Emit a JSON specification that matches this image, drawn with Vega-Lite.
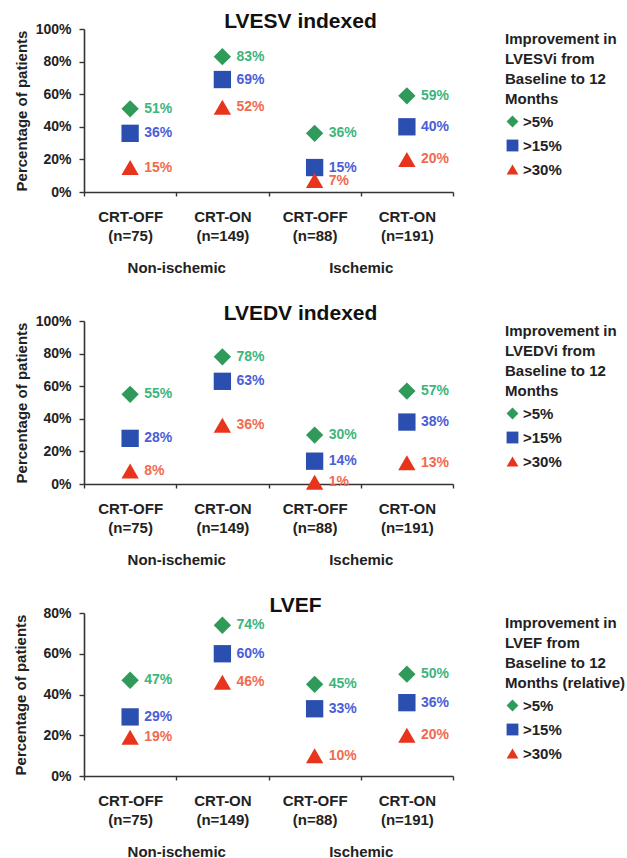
{
  "$schema": "https://vega.github.io/schema/vega-lite/v6.json",
  "background": "white",
  "padding": {"left": 13, "top": 11, "right": 0, "bottom": 0},
  "spacing": 28,
  "columns": 1,
  "align": "none",
  "config": {
    "font": "Liberation Sans, Arial, sans-serif",
    "view": {"stroke": null},
    "axis": {
      "grid": false,
      "labelFont": "Liberation Sans, Arial, sans-serif",
      "labelFontWeight": "bold",
      "labelColor": "#222222",
      "titleColor": "#222222",
      "domainColor": "#333333",
      "tickColor": "#333333",
      "domainWidth": 1.6,
      "tickWidth": 1.4,
      "labelOverlap": false
    },
    "legend": {
      "titleFont": "Liberation Sans, Arial, sans-serif",
      "titleFontSize": 15,
      "titleFontWeight": "bold",
      "titleColor": "#222222",
      "titleLineHeight": 20,
      "titlePadding": 7,
      "labelFont": "Liberation Sans, Arial, sans-serif",
      "labelFontSize": 15,
      "labelFontWeight": "bold",
      "labelColor": "#222222",
      "symbolSize": 140,
      "labelOffset": 3,
      "rowPadding": 8,
      "offset": 49,
      "padding": 3
    },
    "title": {
      "font": "Liberation Sans, Arial, sans-serif",
      "fontSize": 21,
      "fontWeight": "bold",
      "color": "#111111",
      "anchor": "middle",
      "offset": -10
    }
  },
  "data": {
    "values": [
      {"panel": "LVESV", "arm": "CRT-OFF (n=75)", "group": "Non-ischemic", "thr": ">5%", "value": 0.51},
      {"panel": "LVESV", "arm": "CRT-OFF (n=75)", "group": "Non-ischemic", "thr": ">15%", "value": 0.36},
      {"panel": "LVESV", "arm": "CRT-OFF (n=75)", "group": "Non-ischemic", "thr": ">30%", "value": 0.15},
      {"panel": "LVESV", "arm": "CRT-ON (n=149)", "group": "Non-ischemic", "thr": ">5%", "value": 0.83},
      {"panel": "LVESV", "arm": "CRT-ON (n=149)", "group": "Non-ischemic", "thr": ">15%", "value": 0.69},
      {"panel": "LVESV", "arm": "CRT-ON (n=149)", "group": "Non-ischemic", "thr": ">30%", "value": 0.52},
      {"panel": "LVESV", "arm": "CRT-OFF (n=88)", "group": "Ischemic", "thr": ">5%", "value": 0.36},
      {"panel": "LVESV", "arm": "CRT-OFF (n=88)", "group": "Ischemic", "thr": ">15%", "value": 0.15},
      {"panel": "LVESV", "arm": "CRT-OFF (n=88)", "group": "Ischemic", "thr": ">30%", "value": 0.07},
      {"panel": "LVESV", "arm": "CRT-ON (n=191)", "group": "Ischemic", "thr": ">5%", "value": 0.59},
      {"panel": "LVESV", "arm": "CRT-ON (n=191)", "group": "Ischemic", "thr": ">15%", "value": 0.40},
      {"panel": "LVESV", "arm": "CRT-ON (n=191)", "group": "Ischemic", "thr": ">30%", "value": 0.20},
      {"panel": "LVEDV", "arm": "CRT-OFF (n=75)", "group": "Non-ischemic", "thr": ">5%", "value": 0.55},
      {"panel": "LVEDV", "arm": "CRT-OFF (n=75)", "group": "Non-ischemic", "thr": ">15%", "value": 0.28},
      {"panel": "LVEDV", "arm": "CRT-OFF (n=75)", "group": "Non-ischemic", "thr": ">30%", "value": 0.08},
      {"panel": "LVEDV", "arm": "CRT-ON (n=149)", "group": "Non-ischemic", "thr": ">5%", "value": 0.78},
      {"panel": "LVEDV", "arm": "CRT-ON (n=149)", "group": "Non-ischemic", "thr": ">15%", "value": 0.63},
      {"panel": "LVEDV", "arm": "CRT-ON (n=149)", "group": "Non-ischemic", "thr": ">30%", "value": 0.36},
      {"panel": "LVEDV", "arm": "CRT-OFF (n=88)", "group": "Ischemic", "thr": ">5%", "value": 0.30},
      {"panel": "LVEDV", "arm": "CRT-OFF (n=88)", "group": "Ischemic", "thr": ">15%", "value": 0.14},
      {"panel": "LVEDV", "arm": "CRT-OFF (n=88)", "group": "Ischemic", "thr": ">30%", "value": 0.01},
      {"panel": "LVEDV", "arm": "CRT-ON (n=191)", "group": "Ischemic", "thr": ">5%", "value": 0.57},
      {"panel": "LVEDV", "arm": "CRT-ON (n=191)", "group": "Ischemic", "thr": ">15%", "value": 0.38},
      {"panel": "LVEDV", "arm": "CRT-ON (n=191)", "group": "Ischemic", "thr": ">30%", "value": 0.13},
      {"panel": "LVEF", "arm": "CRT-OFF (n=75)", "group": "Non-ischemic", "thr": ">5%", "value": 0.47},
      {"panel": "LVEF", "arm": "CRT-OFF (n=75)", "group": "Non-ischemic", "thr": ">15%", "value": 0.29},
      {"panel": "LVEF", "arm": "CRT-OFF (n=75)", "group": "Non-ischemic", "thr": ">30%", "value": 0.19},
      {"panel": "LVEF", "arm": "CRT-ON (n=149)", "group": "Non-ischemic", "thr": ">5%", "value": 0.74},
      {"panel": "LVEF", "arm": "CRT-ON (n=149)", "group": "Non-ischemic", "thr": ">15%", "value": 0.60},
      {"panel": "LVEF", "arm": "CRT-ON (n=149)", "group": "Non-ischemic", "thr": ">30%", "value": 0.46},
      {"panel": "LVEF", "arm": "CRT-OFF (n=88)", "group": "Ischemic", "thr": ">5%", "value": 0.45},
      {"panel": "LVEF", "arm": "CRT-OFF (n=88)", "group": "Ischemic", "thr": ">15%", "value": 0.33},
      {"panel": "LVEF", "arm": "CRT-OFF (n=88)", "group": "Ischemic", "thr": ">30%", "value": 0.10},
      {"panel": "LVEF", "arm": "CRT-ON (n=191)", "group": "Ischemic", "thr": ">5%", "value": 0.50},
      {"panel": "LVEF", "arm": "CRT-ON (n=191)", "group": "Ischemic", "thr": ">15%", "value": 0.36},
      {"panel": "LVEF", "arm": "CRT-ON (n=191)", "group": "Ischemic", "thr": ">30%", "value": 0.20}
    ]
  },
  "resolve": {
    "scale": {"y": "independent", "color": "independent", "shape": "independent", "fill": "independent"},
    "legend": {"color": "independent", "shape": "independent"}
  },
  "concat": [
    {
      "title": {"text": "LVESV indexed", "dx": 32},
      "width": 369,
      "height": 163,
      "transform": [{"filter": "datum.panel === 'LVESV'"}],
      "layer": [
        {
          "mark": {"type": "point", "opacity": 0},
          "encoding": {
            "x": {"field": "group", "type": "nominal", "sort": ["Non-ischemic", "Ischemic"], "axis": {"orient": "bottom", "offset": 68, "title": null, "domain": false, "ticks": false, "labelAngle": 0, "labelFontSize": 15, "labelPadding": 0}},
            "y": {"field": "value", "type": "quantitative", "scale": {"domain": [0, 1]}, "axis": {"title": "Percentage of patients", "titleFontSize": 15, "titleFontWeight": "bold", "titlePadding": 6, "format": ".0%", "values": [0, 0.2, 0.4, 0.6, 0.8, 1], "tickCount": 6, "labelOverlap": false, "labelFontSize": 14, "labelPadding": 8, "tickSize": 5}}
          }
        },
        {
          "layer": [
            {
              "mark": {"type": "point", "filled": true, "size": 300, "opacity": 1},
              "encoding": {
                "x": {"field": "arm", "type": "nominal", "sort": null, "axis": {"orient": "bottom", "title": null, "labelAngle": 0, "labelFontSize": 15, "labelLineHeight": 19, "labelPadding": 13, "tickBand": "extent", "tickSize": 4, "labelExpr": "split(datum.label, ' ')"}},
                "y": {"field": "value", "type": "quantitative", "scale": {"domain": [0, 1]}, "axis": {"title": "Percentage of patients", "titleFontSize": 15, "titleFontWeight": "bold", "titlePadding": 6, "format": ".0%", "values": [0, 0.2, 0.4, 0.6, 0.8, 1], "tickCount": 6, "labelOverlap": false, "labelFontSize": 14, "labelPadding": 8, "tickSize": 5}},
                "color": {"field": "thr", "type": "nominal", "scale": {"domain": [">5%", ">15%", ">30%"], "range": ["#2f9a5a", "#2b4fb0", "#e8341c"]}, "legend": {"title": ["Improvement in", "LVESVi from", "Baseline to 12", "Months"]}},
                "shape": {"field": "thr", "type": "nominal", "scale": {"domain": [">5%", ">15%", ">30%"], "range": ["diamond", "square", "triangle-up"]}, "legend": {"title": ["Improvement in", "LVESVi from", "Baseline to 12", "Months"]}}
              }
            },
            {
              "mark": {"type": "text", "align": "left", "baseline": "middle", "dx": 14, "fontSize": 14, "fontWeight": "bold"},
              "encoding": {
                "x": {"field": "arm", "type": "nominal", "sort": null},
                "y": {"field": "value", "type": "quantitative"},
                "text": {"field": "value", "type": "quantitative", "format": ".0%"},
                "fill": {"field": "thr", "type": "nominal", "scale": {"domain": [">5%", ">15%", ">30%"], "range": ["#3db57c", "#4a5ed6", "#f26a50"]}, "legend": null}
              }
            }
          ]
        }
      ],
      "resolve": {"scale": {"x": "independent"}, "axis": {"x": "independent"}}
    },
    {
      "title": {"text": "LVEDV indexed", "dx": 32},
      "width": 369,
      "height": 163,
      "transform": [{"filter": "datum.panel === 'LVEDV'"}],
      "layer": [
        {
          "mark": {"type": "point", "opacity": 0},
          "encoding": {
            "x": {"field": "group", "type": "nominal", "sort": ["Non-ischemic", "Ischemic"], "axis": {"orient": "bottom", "offset": 68, "title": null, "domain": false, "ticks": false, "labelAngle": 0, "labelFontSize": 15, "labelPadding": 0}},
            "y": {"field": "value", "type": "quantitative", "scale": {"domain": [0, 1]}, "axis": {"title": "Percentage of patients", "titleFontSize": 15, "titleFontWeight": "bold", "titlePadding": 6, "format": ".0%", "values": [0, 0.2, 0.4, 0.6, 0.8, 1], "tickCount": 6, "labelOverlap": false, "labelFontSize": 14, "labelPadding": 8, "tickSize": 5}}
          }
        },
        {
          "layer": [
            {
              "mark": {"type": "point", "filled": true, "size": 300, "opacity": 1},
              "encoding": {
                "x": {"field": "arm", "type": "nominal", "sort": null, "axis": {"orient": "bottom", "title": null, "labelAngle": 0, "labelFontSize": 15, "labelLineHeight": 19, "labelPadding": 13, "tickBand": "extent", "tickSize": 4, "labelExpr": "split(datum.label, ' ')"}},
                "y": {"field": "value", "type": "quantitative", "scale": {"domain": [0, 1]}, "axis": {"title": "Percentage of patients", "titleFontSize": 15, "titleFontWeight": "bold", "titlePadding": 6, "format": ".0%", "values": [0, 0.2, 0.4, 0.6, 0.8, 1], "tickCount": 6, "labelOverlap": false, "labelFontSize": 14, "labelPadding": 8, "tickSize": 5}},
                "color": {"field": "thr", "type": "nominal", "scale": {"domain": [">5%", ">15%", ">30%"], "range": ["#2f9a5a", "#2b4fb0", "#e8341c"]}, "legend": {"title": ["Improvement in", "LVEDVi from", "Baseline to 12", "Months"]}},
                "shape": {"field": "thr", "type": "nominal", "scale": {"domain": [">5%", ">15%", ">30%"], "range": ["diamond", "square", "triangle-up"]}, "legend": {"title": ["Improvement in", "LVEDVi from", "Baseline to 12", "Months"]}}
              }
            },
            {
              "mark": {"type": "text", "align": "left", "baseline": "middle", "dx": 14, "fontSize": 14, "fontWeight": "bold"},
              "encoding": {
                "x": {"field": "arm", "type": "nominal", "sort": null},
                "y": {"field": "value", "type": "quantitative"},
                "text": {"field": "value", "type": "quantitative", "format": ".0%"},
                "fill": {"field": "thr", "type": "nominal", "scale": {"domain": [">5%", ">15%", ">30%"], "range": ["#3db57c", "#4a5ed6", "#f26a50"]}, "legend": null}
              }
            }
          ]
        }
      ],
      "resolve": {"scale": {"x": "independent"}, "axis": {"x": "independent"}}
    },
    {
      "title": {"text": "LVEF", "dx": 27},
      "width": 369,
      "height": 163,
      "transform": [{"filter": "datum.panel === 'LVEF'"}],
      "layer": [
        {
          "mark": {"type": "point", "opacity": 0},
          "encoding": {
            "x": {"field": "group", "type": "nominal", "sort": ["Non-ischemic", "Ischemic"], "axis": {"orient": "bottom", "offset": 68, "title": null, "domain": false, "ticks": false, "labelAngle": 0, "labelFontSize": 15, "labelPadding": 0}},
            "y": {"field": "value", "type": "quantitative", "scale": {"domain": [0, 0.8]}, "axis": {"title": "Percentage of patients", "titleFontSize": 15, "titleFontWeight": "bold", "titlePadding": 14, "format": ".0%", "values": [0, 0.2, 0.4, 0.6, 0.8], "labelOverlap": false, "labelFontSize": 14, "labelPadding": 8, "tickSize": 5}}
          }
        },
        {
          "layer": [
            {
              "mark": {"type": "point", "filled": true, "size": 300, "opacity": 1},
              "encoding": {
                "x": {"field": "arm", "type": "nominal", "sort": null, "axis": {"orient": "bottom", "title": null, "labelAngle": 0, "labelFontSize": 15, "labelLineHeight": 19, "labelPadding": 13, "tickBand": "extent", "tickSize": 4, "labelExpr": "split(datum.label, ' ')"}},
                "y": {"field": "value", "type": "quantitative", "scale": {"domain": [0, 0.8]}, "axis": {"title": "Percentage of patients", "titleFontSize": 15, "titleFontWeight": "bold", "titlePadding": 14, "format": ".0%", "values": [0, 0.2, 0.4, 0.6, 0.8], "labelOverlap": false, "labelFontSize": 14, "labelPadding": 8, "tickSize": 5}},
                "color": {"field": "thr", "type": "nominal", "scale": {"domain": [">5%", ">15%", ">30%"], "range": ["#2f9a5a", "#2b4fb0", "#e8341c"]}, "legend": {"title": ["Improvement in", "LVEF from", "Baseline to 12", "Months (relative)"]}},
                "shape": {"field": "thr", "type": "nominal", "scale": {"domain": [">5%", ">15%", ">30%"], "range": ["diamond", "square", "triangle-up"]}, "legend": {"title": ["Improvement in", "LVEF from", "Baseline to 12", "Months (relative)"]}}
              }
            },
            {
              "mark": {"type": "text", "align": "left", "baseline": "middle", "dx": 14, "fontSize": 14, "fontWeight": "bold"},
              "encoding": {
                "x": {"field": "arm", "type": "nominal", "sort": null},
                "y": {"field": "value", "type": "quantitative"},
                "text": {"field": "value", "type": "quantitative", "format": ".0%"},
                "fill": {"field": "thr", "type": "nominal", "scale": {"domain": [">5%", ">15%", ">30%"], "range": ["#3db57c", "#4a5ed6", "#f26a50"]}, "legend": null}
              }
            }
          ]
        }
      ],
      "resolve": {"scale": {"x": "independent"}, "axis": {"x": "independent"}}
    }
  ]
}
